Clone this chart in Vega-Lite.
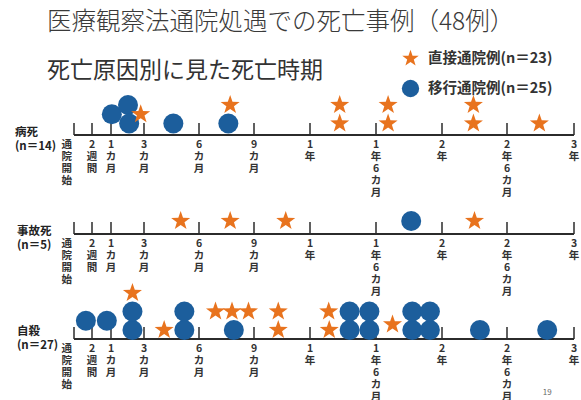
{
  "$schema": "https://vega.github.io/schema/vega-lite/v6.json",
  "width": 581,
  "height": 400,
  "autosize": "none",
  "padding": 0,
  "background": "white",
  "title": {
    "text": "  医療観察法通院処遇での死亡事例（48例）",
    "subtitle": "死亡原因別に見た死亡時期",
    "anchor": "start", "frame": "group", "dx": 47, "offset": -84,
    "font": "Noto Sans CJK JP", "fontSize": 24.5, "fontWeight": 300, "color": "#3a3a3a",
    "subtitleFont": "Noto Sans CJK JP", "subtitleFontSize": 23, "subtitleFontWeight": "normal", "subtitleColor": "#333", "subtitlePadding": 25
  },
  "datasets": {
    "one": [{"n": 1}],
    "ticks": [{"t": 0}, {"t": 0.5}, {"t": 1}, {"t": 3}, {"t": 6}, {"t": 9}, {"t": 12}, {"t": 18}, {"t": 24}, {"t": 30}, {"t": 36}],
    "axislabels": [
      {"t": 0, "label": "通\n院\n開\n始"},
      {"t": 0.5, "label": "2\n週\n間"},
      {"t": 1, "label": "1\nカ\n月"},
      {"t": 3, "label": "3\nカ\n月"},
      {"t": 6, "label": "6\nカ\n月"},
      {"t": 9, "label": "9\nカ\n月"},
      {"t": 12, "label": "1\n年"},
      {"t": 18, "label": "1\n年\n6\nカ\n月"},
      {"t": 24, "label": "2\n年"},
      {"t": 30, "label": "2\n年\n6\nカ\n月"},
      {"t": 36, "label": "3\n年"}
    ],
    "deaths": [
      {"cause": "病死", "group": "移行通院例(n＝25)", "months": 1.05, "level": 0.5},
      {"cause": "病死", "group": "移行通院例(n＝25)", "months": 2.03, "level": 1},
      {"cause": "病死", "group": "移行通院例(n＝25)", "months": 2.1, "level": 0},
      {"cause": "病死", "group": "直接通院例(n＝23)", "months": 2.8, "level": 0.5},
      {"cause": "病死", "group": "移行通院例(n＝25)", "months": 4.6, "level": 0},
      {"cause": "病死", "group": "移行通院例(n＝25)", "months": 7.6, "level": 0},
      {"cause": "病死", "group": "直接通院例(n＝23)", "months": 7.7, "level": 1},
      {"cause": "病死", "group": "直接通院例(n＝23)", "months": 14.7, "level": 1},
      {"cause": "病死", "group": "直接通院例(n＝23)", "months": 14.7, "level": 0},
      {"cause": "病死", "group": "直接通院例(n＝23)", "months": 19.1, "level": 1},
      {"cause": "病死", "group": "直接通院例(n＝23)", "months": 19.1, "level": 0},
      {"cause": "病死", "group": "直接通院例(n＝23)", "months": 26.9, "level": 1},
      {"cause": "病死", "group": "直接通院例(n＝23)", "months": 26.9, "level": 0},
      {"cause": "病死", "group": "直接通院例(n＝23)", "months": 32.9, "level": 0},
      {"cause": "事故死", "group": "直接通院例(n＝23)", "months": 5.0, "level": 0},
      {"cause": "事故死", "group": "直接通院例(n＝23)", "months": 7.7, "level": 0},
      {"cause": "事故死", "group": "直接通院例(n＝23)", "months": 10.7, "level": 0},
      {"cause": "事故死", "group": "移行通院例(n＝25)", "months": 21.2, "level": 0},
      {"cause": "事故死", "group": "直接通院例(n＝23)", "months": 27.0, "level": 0},
      {"cause": "自殺", "group": "移行通院例(n＝25)", "months": 0.33, "level": 0.5},
      {"cause": "自殺", "group": "移行通院例(n＝25)", "months": 0.89, "level": 0.5},
      {"cause": "自殺", "group": "移行通院例(n＝25)", "months": 2.3, "level": 0},
      {"cause": "自殺", "group": "移行通院例(n＝25)", "months": 2.3, "level": 1},
      {"cause": "自殺", "group": "直接通院例(n＝23)", "months": 2.3, "level": 2},
      {"cause": "自殺", "group": "直接通院例(n＝23)", "months": 4.1, "level": 0},
      {"cause": "自殺", "group": "移行通院例(n＝25)", "months": 5.2, "level": 0},
      {"cause": "自殺", "group": "移行通院例(n＝25)", "months": 5.2, "level": 1},
      {"cause": "自殺", "group": "直接通院例(n＝23)", "months": 6.9, "level": 1},
      {"cause": "自殺", "group": "直接通院例(n＝23)", "months": 7.8, "level": 1},
      {"cause": "自殺", "group": "移行通院例(n＝25)", "months": 7.9, "level": 0},
      {"cause": "自殺", "group": "直接通院例(n＝23)", "months": 8.7, "level": 1},
      {"cause": "自殺", "group": "直接通院例(n＝23)", "months": 10.3, "level": 1},
      {"cause": "自殺", "group": "直接通院例(n＝23)", "months": 10.3, "level": 0},
      {"cause": "自殺", "group": "直接通院例(n＝23)", "months": 13.7, "level": 1},
      {"cause": "自殺", "group": "直接通院例(n＝23)", "months": 13.75, "level": 0},
      {"cause": "自殺", "group": "移行通院例(n＝25)", "months": 15.6, "level": 0},
      {"cause": "自殺", "group": "移行通院例(n＝25)", "months": 15.6, "level": 1},
      {"cause": "自殺", "group": "移行通院例(n＝25)", "months": 17.4, "level": 0},
      {"cause": "自殺", "group": "移行通院例(n＝25)", "months": 17.4, "level": 1},
      {"cause": "自殺", "group": "直接通院例(n＝23)", "months": 19.5, "level": 0.3},
      {"cause": "自殺", "group": "移行通院例(n＝25)", "months": 21.3, "level": 0},
      {"cause": "自殺", "group": "移行通院例(n＝25)", "months": 21.3, "level": 1},
      {"cause": "自殺", "group": "移行通院例(n＝25)", "months": 22.9, "level": 0},
      {"cause": "自殺", "group": "移行通院例(n＝25)", "months": 22.9, "level": 1},
      {"cause": "自殺", "group": "移行通院例(n＝25)", "months": 27.5, "level": 0},
      {"cause": "自殺", "group": "移行通院例(n＝25)", "months": 33.6, "level": 0}
    ]
  },
  "layer": [
    {"data": {"name": "one"}, "mark": {"type": "rule", "color": "#2b2b2b", "strokeWidth": 2},
     "encoding": {"x": {"datum": 0, "type": "quantitative", "scale": {"domain": [0, 0.5, 1, 3, 6, 9, 12, 18, 24, 30, 36], "range": [74, 92, 111, 144, 199, 254, 310, 376, 442, 507, 574], "nice": false, "zero": false}, "axis": null}, "x2": {"datum": 36}, "y": {"datum": -0.622, "type": "quantitative", "scale": {"domain": [-14.946, 6.676], "nice": false, "zero": false}, "axis": null}}},
    {"data": {"name": "ticks"}, "mark": {"type": "rule", "color": "#2b2b2b", "strokeWidth": 1.5},
     "encoding": {"x": {"field": "t", "type": "quantitative", "scale": {"domain": [0, 0.5, 1, 3, 6, 9, 12, 18, 24, 30, 36], "range": [74, 92, 111, 144, 199, 254, 310, 376, 442, 507, 574], "nice": false, "zero": false}, "axis": null}, "y": {"datum": -0.622, "type": "quantitative", "scale": {"domain": [-14.946, 6.676], "nice": false, "zero": false}, "axis": null}, "y2": {"datum": 0.027}}},
    {"data": {"name": "axislabels"}, "transform": [{"filter": "datum.t > 0"}],
     "mark": {"type": "text", "lineBreak": "\n", "baseline": "top", "align": "center", "font": "Noto Sans CJK JP", "fontSize": 10.5, "fontWeight": "bold", "color": "#333", "lineHeight": 12},
     "encoding": {"x": {"field": "t", "type": "quantitative", "scale": {"domain": [0, 0.5, 1, 3, 6, 9, 12, 18, 24, 30, 36], "range": [74, 92, 111, 144, 199, 254, 310, 376, 442, 507, 574], "nice": false, "zero": false}, "axis": null}, "y": {"datum": -0.892, "type": "quantitative", "scale": {"domain": [-14.946, 6.676], "nice": false, "zero": false}, "axis": null}, "text": {"field": "label"}}},
    {"data": {"name": "axislabels"}, "transform": [{"filter": "datum.t == 0"}],
     "mark": {"type": "text", "lineBreak": "\n", "baseline": "top", "align": "right", "dx": -2, "font": "Noto Sans CJK JP", "fontSize": 10.5, "fontWeight": "bold", "color": "#333", "lineHeight": 12},
     "encoding": {"x": {"field": "t", "type": "quantitative", "scale": {"domain": [0, 0.5, 1, 3, 6, 9, 12, 18, 24, 30, 36], "range": [74, 92, 111, 144, 199, 254, 310, 376, 442, 507, 574], "nice": false, "zero": false}, "axis": null}, "y": {"datum": -0.892, "type": "quantitative", "scale": {"domain": [-14.946, 6.676], "nice": false, "zero": false}, "axis": null}, "text": {"field": "label"}}},
    {"data": {"name": "one"}, "mark": {"type": "text", "text": "病死\n(n＝14)", "lineBreak": "\n", "baseline": "top", "align": "left", "dx": -59, "font": "Noto Sans CJK JP", "fontSize": 11.5, "fontWeight": "bold", "color": "#222", "lineHeight": 14},
     "encoding": {"x": {"datum": 0, "type": "quantitative", "scale": {"domain": [0, 0.5, 1, 3, 6, 9, 12, 18, 24, 30, 36], "range": [74, 92, 111, 144, 199, 254, 310, 376, 442, 507, 574], "nice": false, "zero": false}, "axis": null}, "y": {"datum": -0.162, "type": "quantitative", "scale": {"domain": [-14.946, 6.676], "nice": false, "zero": false}, "axis": null}}},
    {"data": {"name": "deaths"}, "transform": [{"filter": "datum.cause == '病死'"}],
     "mark": {"type": "point", "filled": true, "opacity": 1, "size": 400},
     "encoding": {
       "x": {"field": "months", "type": "quantitative", "scale": {"domain": [0, 0.5, 1, 3, 6, 9, 12, 18, 24, 30, 36], "range": [74, 92, 111, 144, 199, 254, 310, 376, 442, 507, 574], "nice": false, "zero": false}, "axis": null},
       "y": {"field": "level", "type": "quantitative", "scale": {"domain": [-14.946, 6.676], "nice": false, "zero": false}, "axis": null},
       "shape": {"field": "group", "type": "nominal", "scale": {"domain": ["直接通院例(n＝23)", "移行通院例(n＝25)"], "range": ["M0,-1L0.235,-0.324L0.951,-0.309L0.38,0.124L0.588,0.809L0,0.4L-0.588,0.809L-0.38,0.124L-0.951,-0.309L-0.235,-0.324Z", "circle"]}, "legend": {"title": null, "orient": "none", "legendX": 401, "legendY": 49, "labelFont": "Noto Sans CJK JP", "labelFontSize": 14.5, "labelFontWeight": "bold", "labelColor": "#333", "labelLimit": 300, "labelOffset": 8, "symbolSize": 300, "symbolOpacity": 1, "rowPadding": 7}},
       "color": {"field": "group", "type": "nominal", "scale": {"domain": ["直接通院例(n＝23)", "移行通院例(n＝25)"], "range": ["#E8731E", "#1C5E9C"]}, "legend": {"title": null, "orient": "none", "legendX": 401, "legendY": 49, "labelFont": "Noto Sans CJK JP", "labelFontSize": 14.5, "labelFontWeight": "bold", "labelColor": "#333", "labelLimit": 300, "labelOffset": 8, "symbolSize": 300, "symbolOpacity": 1, "rowPadding": 7}}
     }},

    {"data": {"name": "one"}, "mark": {"type": "rule", "color": "#2b2b2b", "strokeWidth": 2},
     "encoding": {"x": {"datum": 0, "type": "quantitative", "scale": {"domain": [0, 0.5, 1, 3, 6, 9, 12, 18, 24, 30, 36], "range": [74, 92, 111, 144, 199, 254, 310, 376, 442, 507, 574], "nice": false, "zero": false}, "axis": null}, "x2": {"datum": 36}, "y": {"datum": -0.703, "type": "quantitative", "scale": {"domain": [-9.676, 11.946], "nice": false, "zero": false}, "axis": null}}},
    {"data": {"name": "ticks"}, "mark": {"type": "rule", "color": "#2b2b2b", "strokeWidth": 1.5},
     "encoding": {"x": {"field": "t", "type": "quantitative", "scale": {"domain": [0, 0.5, 1, 3, 6, 9, 12, 18, 24, 30, 36], "range": [74, 92, 111, 144, 199, 254, 310, 376, 442, 507, 574], "nice": false, "zero": false}, "axis": null}, "y": {"datum": -0.703, "type": "quantitative", "scale": {"domain": [-9.676, 11.946], "nice": false, "zero": false}, "axis": null}, "y2": {"datum": -0.054}}},
    {"data": {"name": "axislabels"}, "transform": [{"filter": "datum.t > 0"}],
     "mark": {"type": "text", "lineBreak": "\n", "baseline": "top", "align": "center", "font": "Noto Sans CJK JP", "fontSize": 10.5, "fontWeight": "bold", "color": "#333", "lineHeight": 12},
     "encoding": {"x": {"field": "t", "type": "quantitative", "scale": {"domain": [0, 0.5, 1, 3, 6, 9, 12, 18, 24, 30, 36], "range": [74, 92, 111, 144, 199, 254, 310, 376, 442, 507, 574], "nice": false, "zero": false}, "axis": null}, "y": {"datum": -0.973, "type": "quantitative", "scale": {"domain": [-9.676, 11.946], "nice": false, "zero": false}, "axis": null}, "text": {"field": "label"}}},
    {"data": {"name": "axislabels"}, "transform": [{"filter": "datum.t == 0"}],
     "mark": {"type": "text", "lineBreak": "\n", "baseline": "top", "align": "right", "dx": -2, "font": "Noto Sans CJK JP", "fontSize": 10.5, "fontWeight": "bold", "color": "#333", "lineHeight": 12},
     "encoding": {"x": {"field": "t", "type": "quantitative", "scale": {"domain": [0, 0.5, 1, 3, 6, 9, 12, 18, 24, 30, 36], "range": [74, 92, 111, 144, 199, 254, 310, 376, 442, 507, 574], "nice": false, "zero": false}, "axis": null}, "y": {"datum": -0.973, "type": "quantitative", "scale": {"domain": [-9.676, 11.946], "nice": false, "zero": false}, "axis": null}, "text": {"field": "label"}}},
    {"data": {"name": "one"}, "mark": {"type": "text", "text": "事故死\n(n＝5)", "lineBreak": "\n", "baseline": "top", "align": "left", "dx": -57, "font": "Noto Sans CJK JP", "fontSize": 11.5, "fontWeight": "bold", "color": "#222", "lineHeight": 14},
     "encoding": {"x": {"datum": 0, "type": "quantitative", "scale": {"domain": [0, 0.5, 1, 3, 6, 9, 12, 18, 24, 30, 36], "range": [74, 92, 111, 144, 199, 254, 310, 376, 442, 507, 574], "nice": false, "zero": false}, "axis": null}, "y": {"datum": -0.254, "type": "quantitative", "scale": {"domain": [-9.676, 11.946], "nice": false, "zero": false}, "axis": null}}},
    {"data": {"name": "deaths"}, "transform": [{"filter": "datum.cause == '事故死'"}],
     "mark": {"type": "point", "filled": true, "opacity": 1, "size": 400},
     "encoding": {
       "x": {"field": "months", "type": "quantitative", "scale": {"domain": [0, 0.5, 1, 3, 6, 9, 12, 18, 24, 30, 36], "range": [74, 92, 111, 144, 199, 254, 310, 376, 442, 507, 574], "nice": false, "zero": false}, "axis": null},
       "y": {"field": "level", "type": "quantitative", "scale": {"domain": [-9.676, 11.946], "nice": false, "zero": false}, "axis": null},
       "shape": {"field": "group", "type": "nominal", "scale": {"domain": ["直接通院例(n＝23)", "移行通院例(n＝25)"], "range": ["M0,-1L0.235,-0.324L0.951,-0.309L0.38,0.124L0.588,0.809L0,0.4L-0.588,0.809L-0.38,0.124L-0.951,-0.309L-0.235,-0.324Z", "circle"]}, "legend": {"title": null, "orient": "none", "legendX": 401, "legendY": 49, "labelFont": "Noto Sans CJK JP", "labelFontSize": 14.5, "labelFontWeight": "bold", "labelColor": "#333", "labelLimit": 300, "labelOffset": 8, "symbolSize": 300, "symbolOpacity": 1, "rowPadding": 7}},
       "color": {"field": "group", "type": "nominal", "scale": {"domain": ["直接通院例(n＝23)", "移行通院例(n＝25)"], "range": ["#E8731E", "#1C5E9C"]}, "legend": {"title": null, "orient": "none", "legendX": 401, "legendY": 49, "labelFont": "Noto Sans CJK JP", "labelFontSize": 14.5, "labelFontWeight": "bold", "labelColor": "#333", "labelLimit": 300, "labelOffset": 8, "symbolSize": 300, "symbolOpacity": 1, "rowPadding": 7}}
     }},

    {"data": {"name": "one"}, "mark": {"type": "rule", "color": "#2b2b2b", "strokeWidth": 2},
     "encoding": {"x": {"datum": 0, "type": "quantitative", "scale": {"domain": [0, 0.5, 1, 3, 6, 9, 12, 18, 24, 30, 36], "range": [74, 92, 111, 144, 199, 254, 310, 376, 442, 507, 574], "nice": false, "zero": false}, "axis": null}, "x2": {"datum": 36}, "y": {"datum": -0.486, "type": "quantitative", "scale": {"domain": [-3.784, 17.838], "nice": false, "zero": false}, "axis": null}}},
    {"data": {"name": "ticks"}, "mark": {"type": "rule", "color": "#2b2b2b", "strokeWidth": 1.5},
     "encoding": {"x": {"field": "t", "type": "quantitative", "scale": {"domain": [0, 0.5, 1, 3, 6, 9, 12, 18, 24, 30, 36], "range": [74, 92, 111, 144, 199, 254, 310, 376, 442, 507, 574], "nice": false, "zero": false}, "axis": null}, "y": {"datum": -0.486, "type": "quantitative", "scale": {"domain": [-3.784, 17.838], "nice": false, "zero": false}, "axis": null}, "y2": {"datum": 0.163}}},
    {"data": {"name": "axislabels"}, "transform": [{"filter": "datum.t > 0"}],
     "mark": {"type": "text", "lineBreak": "\n", "baseline": "top", "align": "center", "font": "Noto Sans CJK JP", "fontSize": 10.5, "fontWeight": "bold", "color": "#333", "lineHeight": 12},
     "encoding": {"x": {"field": "t", "type": "quantitative", "scale": {"domain": [0, 0.5, 1, 3, 6, 9, 12, 18, 24, 30, 36], "range": [74, 92, 111, 144, 199, 254, 310, 376, 442, 507, 574], "nice": false, "zero": false}, "axis": null}, "y": {"datum": -0.757, "type": "quantitative", "scale": {"domain": [-3.784, 17.838], "nice": false, "zero": false}, "axis": null}, "text": {"field": "label"}}},
    {"data": {"name": "axislabels"}, "transform": [{"filter": "datum.t == 0"}],
     "mark": {"type": "text", "lineBreak": "\n", "baseline": "top", "align": "right", "dx": -2, "font": "Noto Sans CJK JP", "fontSize": 10.5, "fontWeight": "bold", "color": "#333", "lineHeight": 12},
     "encoding": {"x": {"field": "t", "type": "quantitative", "scale": {"domain": [0, 0.5, 1, 3, 6, 9, 12, 18, 24, 30, 36], "range": [74, 92, 111, 144, 199, 254, 310, 376, 442, 507, 574], "nice": false, "zero": false}, "axis": null}, "y": {"datum": -0.757, "type": "quantitative", "scale": {"domain": [-3.784, 17.838], "nice": false, "zero": false}, "axis": null}, "text": {"field": "label"}}},
    {"data": {"name": "one"}, "mark": {"type": "text", "text": "自殺\n(n＝27)", "lineBreak": "\n", "baseline": "top", "align": "left", "dx": -57, "font": "Noto Sans CJK JP", "fontSize": 11.5, "fontWeight": "bold", "color": "#222", "lineHeight": 14},
     "encoding": {"x": {"datum": 0, "type": "quantitative", "scale": {"domain": [0, 0.5, 1, 3, 6, 9, 12, 18, 24, 30, 36], "range": [74, 92, 111, 144, 199, 254, 310, 376, 442, 507, 574], "nice": false, "zero": false}, "axis": null}, "y": {"datum": 0.232, "type": "quantitative", "scale": {"domain": [-3.784, 17.838], "nice": false, "zero": false}, "axis": null}}},
    {"data": {"name": "one"}, "mark": {"type": "text", "text": "19", "font": "Noto Sans CJK JP", "fontSize": 8, "color": "#666"},
     "encoding": {"x": {"datum": 33.6, "type": "quantitative", "scale": {"domain": [0, 0.5, 1, 3, 6, 9, 12, 18, 24, 30, 36], "range": [74, 92, 111, 144, 199, 254, 310, 376, 442, 507, 574], "nice": false, "zero": false}, "axis": null}, "y": {"datum": -3.4, "type": "quantitative", "scale": {"domain": [-3.784, 17.838], "nice": false, "zero": false}, "axis": null}}},
    {"data": {"name": "deaths"}, "transform": [{"filter": "datum.cause == '自殺'"}],
     "mark": {"type": "point", "filled": true, "opacity": 1, "size": 400},
     "encoding": {
       "x": {"field": "months", "type": "quantitative", "scale": {"domain": [0, 0.5, 1, 3, 6, 9, 12, 18, 24, 30, 36], "range": [74, 92, 111, 144, 199, 254, 310, 376, 442, 507, 574], "nice": false, "zero": false}, "axis": null},
       "y": {"field": "level", "type": "quantitative", "scale": {"domain": [-3.784, 17.838], "nice": false, "zero": false}, "axis": null},
       "shape": {"field": "group", "type": "nominal", "scale": {"domain": ["直接通院例(n＝23)", "移行通院例(n＝25)"], "range": ["M0,-1L0.235,-0.324L0.951,-0.309L0.38,0.124L0.588,0.809L0,0.4L-0.588,0.809L-0.38,0.124L-0.951,-0.309L-0.235,-0.324Z", "circle"]}, "legend": {"title": null, "orient": "none", "legendX": 401, "legendY": 49, "labelFont": "Noto Sans CJK JP", "labelFontSize": 14.5, "labelFontWeight": "bold", "labelColor": "#333", "labelLimit": 300, "labelOffset": 8, "symbolSize": 300, "symbolOpacity": 1, "rowPadding": 7}},
       "color": {"field": "group", "type": "nominal", "scale": {"domain": ["直接通院例(n＝23)", "移行通院例(n＝25)"], "range": ["#E8731E", "#1C5E9C"]}, "legend": {"title": null, "orient": "none", "legendX": 401, "legendY": 49, "labelFont": "Noto Sans CJK JP", "labelFontSize": 14.5, "labelFontWeight": "bold", "labelColor": "#333", "labelLimit": 300, "labelOffset": 8, "symbolSize": 300, "symbolOpacity": 1, "rowPadding": 7}}
     }}
  ],
  "resolve": {"scale": {"y": "independent"}},
  "config": {"view": {"stroke": null}}
}
